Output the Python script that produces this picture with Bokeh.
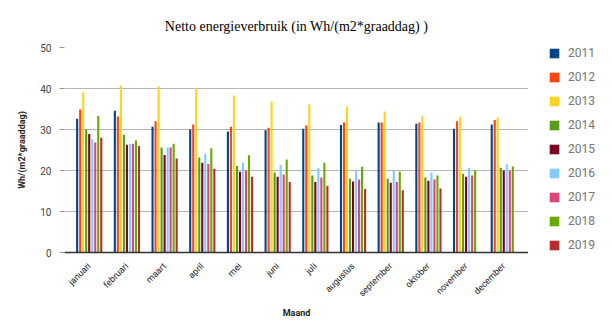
import math
from bokeh.plotting import figure
from bokeh.models import ColumnDataSource, FactorRange, Legend, LegendItem
from bokeh.transform import dodge
from bokeh.layouts import row
from bokeh.embed import file_html
from bokeh.resources import INLINE

months = ["januari", "februari", "maart", "april", "mei", "juni", "juli",
          "augustus", "september", "oktober", "november", "december"]
years = ["2011", "2012", "2013", "2014", "2015", "2016", "2017", "2018", "2019"]
nan = float("nan")
v2011 = [32.6, 34.6, 30.7, 30.0, 29.5, 29.8, 30.2, 31.1, 31.7, 31.4, 30.2, 31.2]
v2012 = [34.9, 33.2, 32.0, 31.2, 30.7, 30.4, 31.0, 31.7, 31.7, 31.7, 32.0, 32.3]
v2013 = [39.0, 40.7, 40.5, 40.0, 38.3, 36.8, 36.1, 35.6, 34.4, 33.3, 33.1, 32.9]
v2014 = [30.0, 28.7, 25.6, 23.2, 21.1, 19.5, 18.8, 18.0, 18.0, 18.3, 19.2, 20.7]
v2015 = [28.9, 26.3, 23.8, 21.9, 19.7, 18.5, 17.2, 17.3, 17.0, 17.5, 18.5, 20.0]
v2016 = [27.6, 26.5, 25.6, 24.1, 21.9, 21.4, 20.7, 20.2, 19.9, 19.5, 20.7, 21.5]
v2017 = [26.8, 26.5, 25.6, 21.6, 20.0, 19.0, 18.3, 17.8, 17.2, 17.8, 18.8, 20.0]
v2018 = [33.3, 27.3, 26.5, 25.4, 23.7, 22.7, 21.9, 20.9, 19.7, 18.8, 20.0, 21.0]
v2019 = [28.0, 26.0, 22.9, 20.4, 18.5, 17.2, 16.3, 15.5, 15.2, 15.6, nan, nan]
series = [v2011, v2012, v2013, v2014, v2015, v2016, v2017, v2018, v2019]
colors = ["#004586", "#ff420e", "#ffd320", "#579d1c", "#7e0021",
          "#83caff", "#dd4477", "#66aa00", "#b82e2e"]

data = {"month": months}
for y, s in zip(years, series):
    data["y" + y] = s
source = ColumnDataSource(data)

p = figure(x_range=FactorRange(*months, range_padding=0.026),
           y_range=(0, 50), width=528, height=334,
           output_backend="svg", toolbar_location=None,
           min_border_left=64, min_border_right=0,
           min_border_top=47, min_border_bottom=82)

step = 0.08
for i, (y, c) in enumerate(zip(years, colors)):
    p.vbar(x=dodge("month", (i - 4) * step, range=p.x_range),
           top="y" + y, width=0.056, source=source,
           fill_color=c, line_color=None)

p.title.text = "Netto energieverbruik (in Wh/(m2*graaddag) )"
p.title.text_font = "Liberation Serif"
p.title.text_font_size = "14px"
p.title.text_font_style = "normal"
p.title.align = "center"
p.title.offset = 24
p.title.standoff = 28
p.title.text_color = "#000000"

p.outline_line_color = None
p.xgrid.grid_line_color = None
p.ygrid.grid_line_color = "#b5b5b5"
p.ygrid.grid_line_width = 1

p.yaxis.ticker = [0, 10, 20, 30, 40, 50]
p.yaxis.axis_line_color = None
p.yaxis.major_tick_out = 5
p.yaxis.major_tick_in = 0
p.yaxis.major_tick_line_color = "#999999"
p.yaxis.minor_tick_line_color = None
p.yaxis.major_label_standoff = 8
p.yaxis.major_label_text_font = "Roboto"
p.yaxis.major_label_text_font_size = "10px"
p.yaxis.major_label_text_color = "#444444"
p.yaxis.axis_label = "Wh/(m2*graaddag)"
p.yaxis.axis_label_text_font = "Roboto"
p.yaxis.axis_label_text_font_size = "9px"
p.yaxis.axis_label_text_font_style = "bold"
p.yaxis.axis_label_text_color = "#222222"
p.yaxis.axis_label_standoff = 10

p.xaxis.axis_line_color = "#333333"
p.xaxis.axis_line_width = 1.5
p.xaxis.major_tick_line_color = None
p.xaxis.minor_tick_line_color = None
p.xaxis.major_label_orientation = math.pi / 4
p.xaxis.major_label_standoff = 6
p.xaxis.major_label_text_font = "Roboto"
p.xaxis.major_label_text_font_size = "9px"
p.xaxis.major_label_text_color = "#222222"
p.xaxis.axis_label = "Maand"
p.xaxis.axis_label_text_font = "Roboto"
p.xaxis.axis_label_text_font_size = "9px"
p.xaxis.axis_label_text_font_style = "bold"
p.xaxis.axis_label_text_color = "#222222"
p.xaxis.axis_label_standoff = 3

# legend panel (a second, axis-less figure next to the chart)
lp = figure(width=85, height=334, x_range=(0, 1), y_range=(0, 1),
            output_backend="svg", toolbar_location=None,
            min_border=0, outline_line_color=None)
lp.axis.visible = False
lp.grid.visible = False
items = []
for y, c in zip(years, colors):
    # zero-height placeholder bar: only provides the legend swatch style
    r = lp.vbar(x=[0.5], bottom=[0], top=[0], width=0.0,
                fill_color=c, line_color=None)
    items.append(LegendItem(label=y, renderers=[r]))
legend = Legend(items=items, location=(20, 0), padding=0, margin=0,
                spacing=10, glyph_width=12, glyph_height=12,
                label_standoff=8, border_line_color=None,
                background_fill_alpha=0,
                label_text_font="Roboto", label_text_font_size="12px",
                label_text_color="#757575")
lp.add_layout(legend, "center")

layout = row(p, lp, spacing=0)
open("out.html", "w").write(file_html(layout, INLINE))
